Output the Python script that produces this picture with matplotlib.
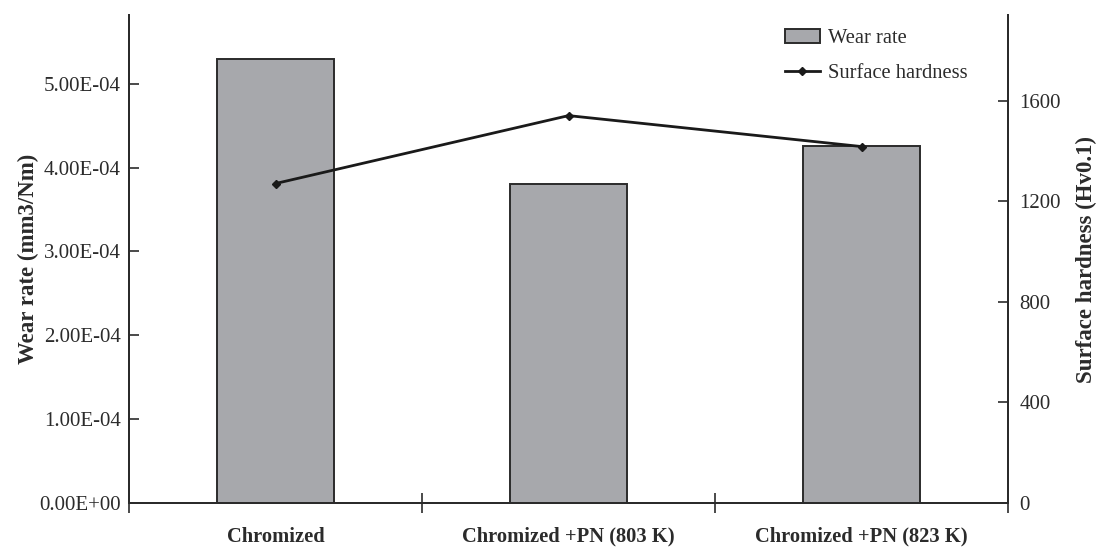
import numpy as np
import matplotlib.pyplot as plt
from matplotlib.ticker import FuncFormatter, FixedLocator

plt.rcParams['font.family'] = ['Liberation Serif', 'DejaVu Serif']

# Dane
kategorie = ['Chromized', 'Chromized +PN (803 K)', 'Chromized +PN (823 K)']
zuzycie = [5.30e-4, 3.81e-4, 4.26e-4]      # wear rate (mm3/Nm)
twardosc = [1270, 1540, 1417]              # surface hardness (Hv0.1)

kolor_slupka = '#a7a8ac'
kolor_krawedzi = '#2b2b2b'

fig = plt.figure(figsize=(10.97, 5.47), dpi=100)
ax = fig.add_axes([0.1176, 0.0804, 0.8013, 0.8922])
ax2 = ax.twinx()

x = np.arange(len(kategorie))
bars = ax.bar(x, zuzycie, width=0.4, color=kolor_slupka, edgecolor=kolor_krawedzi,
              linewidth=1.4, label='Wear rate', zorder=2)
line, = ax2.plot(x, twardosc, '-', color='#1a1a1a', linewidth=2, marker='D',
                 markersize=4, label='Surface hardness', zorder=3)

ax.set_xlim(-0.5, 2.5)
ax.set_ylim(0, 5.82e-4)
ax2.set_ylim(0, 1940)

# osie
for a in (ax, ax2):
    a.spines['top'].set_visible(False)
    for s in a.spines.values():
        s.set_linewidth(1.4)
        s.set_color(kolor_krawedzi)

ax.set_yticks(np.arange(0, 5.01e-4, 1e-4))
ax.yaxis.set_major_formatter(FuncFormatter(lambda v, p: f'{v:.2E}'))
ax2.set_yticks([0, 400, 800, 1200, 1600])

ax.tick_params(axis='y', direction='in', length=7, width=1.2, labelsize=15, pad=6,
               colors='#2b2b2b', labelcolor='#2b2b2b')
ax2.tick_params(axis='y', direction='in', length=7, width=1.2, labelsize=15, pad=8,
                colors='#2b2b2b', labelcolor='#2b2b2b')

ax.set_xticks(x)
ax.set_xticklabels(kategorie, fontweight='bold', fontsize=14.8, color='#2b2b2b')
ax.tick_params(axis='x', which='major', length=0, pad=17)
ax.xaxis.set_minor_locator(FixedLocator([-0.5, 0.5, 1.5, 2.5]))
ax.tick_params(axis='x', which='minor', direction='inout', length=14, width=1.2,
               colors='#2b2b2b')

ax.set_ylabel('Wear rate (mm3/Nm)', fontweight='bold', fontsize=16.5, color='#2b2b2b',
              labelpad=0)
ax2.set_ylabel('Surface hardness (Hv0.1)', fontweight='bold', fontsize=16.5,
               color='#2b2b2b', labelpad=11)

# legenda
leg = ax.legend([bars, line], ['Wear rate', 'Surface hardness'], loc='upper right',
                bbox_to_anchor=(0.975, 1.01), frameon=False, fontsize=14.8,
                handlelength=1.7, labelspacing=0.75, handletextpad=0.4)
for t in leg.get_texts():
    t.set_color('#2b2b2b')

fig.savefig('out.png', dpi=100)
